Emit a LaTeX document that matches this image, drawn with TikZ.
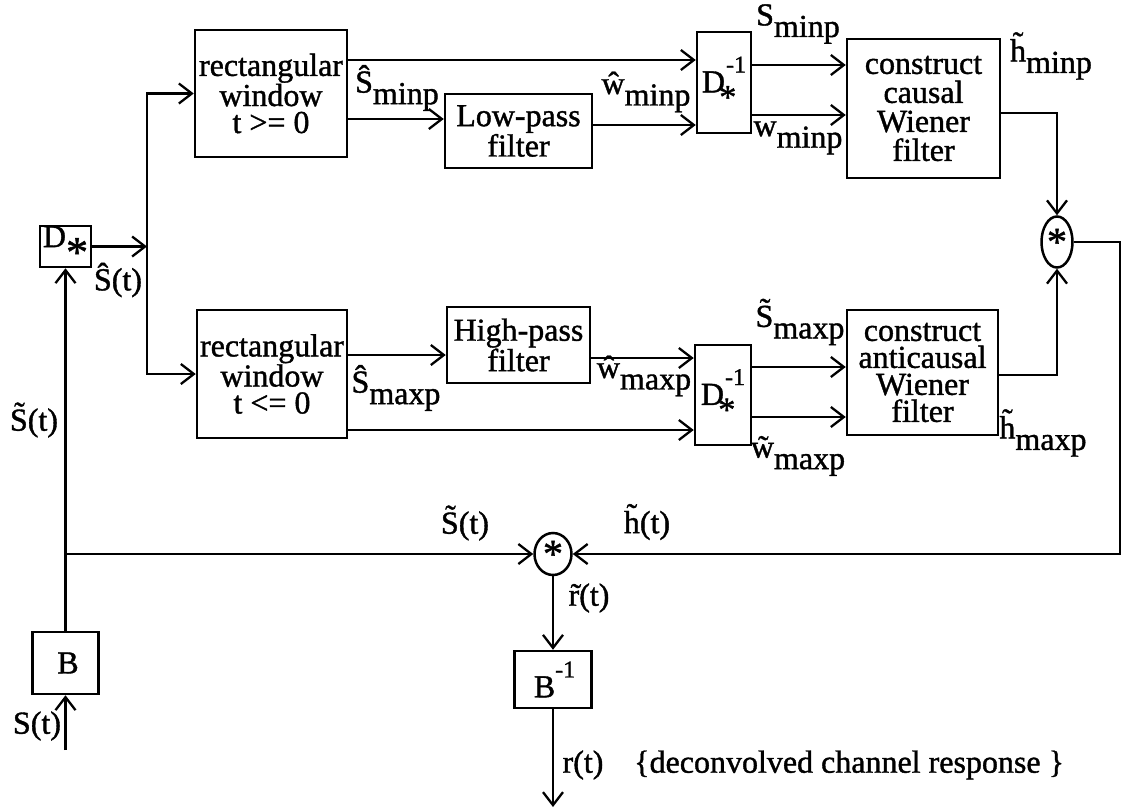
\documentclass[tikz,border=0pt]{standalone}
\usepackage{fontspec}
\setmainfont{Liberation Serif}[BoldFont=Liberation Serif,BoldFeatures={FakeBold=1.2}]
\usetikzlibrary{arrows.meta,shapes.geometric,calc}
\newcommand{\dn}[1]{\raisebox{-0.36em}{#1}}
\newcommand{\up}[1]{\raisebox{0.62em}{\fontsize{24}{24}\selectfont #1}}
\newcommand{\bigstr}{\raisebox{-0.62em}{\fontsize{44}{44}\selectfont *}}
\newcommand{\Dinv}{D\kern-0.18em\raisebox{-0.5em}{\fontsize{34}{34}\selectfont *}\kern-0.32em\up{-1}}
\newcommand{\cstar}{\raisebox{-0.28em}{\fontsize{40}{40}\selectfont *}}
\begin{document}
\begin{tikzpicture}[x=1pt,y=-1pt,line width=2.5pt,
  >={Straight Barb[length=13pt,width=20pt,line width=2.3pt]},
  txt/.style={font=\fontsize{32}{27}\selectfont\bfseries},
  box/.style={draw,txt,line width=2.5pt,inner sep=0pt,align=center},
  lab/.style={txt,inner sep=0pt},
  conv/.style={draw,txt,ellipse,line width=2.5pt,inner sep=0pt}]
\useasboundingbox (0,0) rectangle (1125,809);

% blocks
\node[box,minimum width=51pt,minimum height=41pt] (Dstar) at (65.5,246.5) {D\bigstr};
\node[box,minimum width=66pt,minimum height=62pt] (B) at (65.5,663) {\kern5pt B};
\node[box,minimum width=152pt,minimum height=127pt] (win1) at (271,93.5) {rectangular\\window\\t >= 0};
\node[box,minimum width=150pt,minimum height=128pt] (win2) at (272,374) {rectangular\\window\\t <= 0};
\node[box,minimum width=147pt,minimum height=74pt] (lp) at (518.5,131) {Low-pass\\filter};
\node[box,minimum width=143pt,minimum height=76pt] (hp) at (518.5,345) {High-pass\\filter};
\node[box,minimum width=54pt,minimum height=101pt] (dinv1) at (724,82.5) {\Dinv};
\node[box,minimum width=56pt,minimum height=100pt] (dinv2) at (723,395) {\Dinv};
\node[box,minimum width=153pt,minimum height=139pt,font=\fontsize{32}{29}\selectfont\bfseries] (cc) at (923.5,108.5) {construct\\causal\\Wiener\\filter};
\node[box,minimum width=151pt,minimum height=125pt] (ac) at (922.5,372.5) {construct\\anticausal\\Wiener\\filter};
\node[conv,minimum width=31pt,minimum height=51pt] (conv1) at (1057,242) {\cstar};
\node[conv,minimum width=37pt,minimum height=42pt] (conv2) at (553,554) {\cstar};
\node[box,minimum width=77pt,minimum height=57pt] (Binv) at (553,679.5) {\kern3pt B\up{-1}};

% free ends
\coordinate (br) at (147,246.5);
\coordinate (rc) at (1120,554);
\coordinate (sin) at (65.5,750);
\coordinate (rout) at (553,807);

% connectors
\draw[->] (Dstar.east) -- (br);
\draw[->] (br) |- (win1.west);
\draw[->] (br) |- (win2.west);
\draw[->] (win1.east |- 0,60) -- (dinv1.west |- 0,60);
\draw[->] (win1.east |- 0,119) -- (lp.west |- 0,119);
\draw[->] (lp.east |- 0,125) -- (dinv1.west |- 0,125);
\draw[->] (dinv1.east |- 0,65) -- (cc.west |- 0,65);
\draw[->] (dinv1.east |- 0,115) -- (cc.west |- 0,115);
\draw[->] (cc.east |- 0,113) -| (conv1.north);
\draw[->] (win2.east |- 0,355) -- (hp.west |- 0,355);
\draw[->] (win2.east |- 0,430) -- (dinv2.west |- 0,430);
\draw[->] (hp.east |- 0,358) -- (dinv2.west |- 0,358);
\draw[->] (dinv2.east |- 0,367) -- (ac.west |- 0,367);
\draw[->] (dinv2.east |- 0,417) -- (ac.west |- 0,417);
\draw[->] (ac.east |- 0,375) -| (conv1.south);
\draw[->] (conv1.east) -| (rc) -- (conv2.east);
\draw[->] (B.north) -- (Dstar.south);
\draw[->] (B.north |- conv2.west) -- (conv2.west);
\draw[->] (sin) -- (B.south);
\draw[->] (conv2.south) -- (Binv.north);
\draw[->] (Binv.south) -- (rout);

% labels
\node[lab] (lShat) at (118,280) {\^S(t)};
\node[lab] (lStil) at (34,420) {\~S(t)};
\node[lab] (lS) at (37,726) {S(t)};
\node[lab] (lSminp) at (397,88) {\^S\dn{minp}};
\node[lab] (lwhminp) at (646,92) {\^w\dn{minp}};
\node[lab] (lSminp2) at (798,24) {S\dn{minp}};
\node[lab] (lwminp) at (798,138) {w\dn{minp}};
\node[lab] (lhminp) at (1051,56) {\~h\dn{minp}};
\node[lab] (lSmaxp) at (396,388) {\^S\dn{maxp}};
\node[lab] (lwhmaxp) at (644,376) {\^w\dn{maxp}};
\node[lab] (lSmaxp2) at (800,322) {\~S\dn{maxp}};
\node[lab] (lwmaxp) at (798,456) {\~w\dn{maxp}};
\node[lab] (lhmaxp) at (1043,433) {\~h\dn{maxp}};
\node[lab] (lSt) at (465,523) {\~S(t)};
\node[lab] (lht) at (647,522) {\~h(t)};
\node[lab] (lrt) at (589,598) {\~r(t)};
\node[lab] (lr) at (583,765) {r(t)};
\node[lab,anchor=west] (lnote) at (633,765) {\{deconvolved channel response \}};
\end{tikzpicture}
\end{document}
